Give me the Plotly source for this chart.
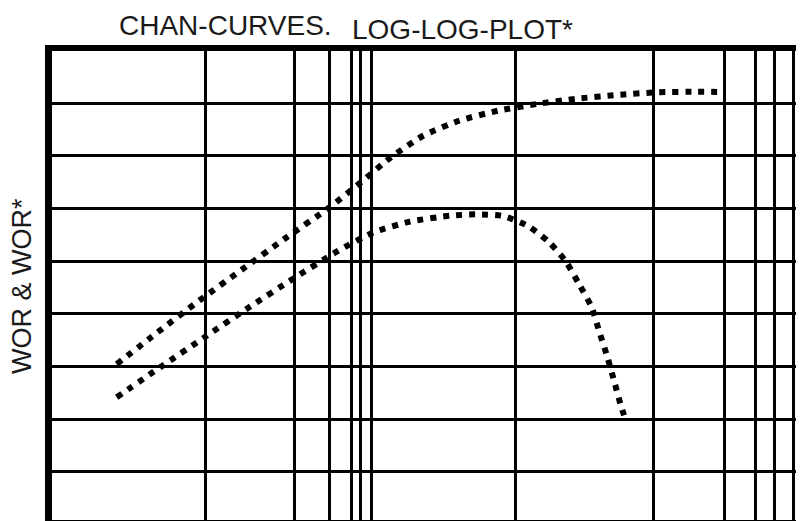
import plotly.graph_objects as go

# Grid positions (no tick labels shown in the reference)
x_grid = [153, 242, 277.3, 299, 308, 319.7, 463, 601.3, 672, 703, 722.3, 741.3]
y_grid = [1, 2, 3, 4, 5, 6, 7, 8]

# Upper curve (WOR*)
wor_star_x = [64.7, 106, 148, 190.7, 233.7, 277, 308, 338, 370.7, 407, 446, 484.7, 525, 564.7, 604.7, 644.7, 669.7]
wor_star_y = [3.047, 3.655, 4.262, 4.850, 5.438, 6.013, 6.482, 6.956, 7.374, 7.664, 7.854, 7.981, 8.082, 8.152, 8.203, 8.214, 8.209]

# Lower curve (WOR)
wor_x = [64.7, 109, 153, 196, 240.7, 284.7, 320.7, 358, 398, 424.7, 451, 476, 497, 514, 527, 539.7, 547.3, 555.3, 562.3, 569, 573]
wor_y = [2.416, 2.996, 3.560, 4.110, 4.660, 5.178, 5.539, 5.748, 5.861, 5.888, 5.856, 5.666, 5.362, 4.989, 4.565, 4.123, 3.660, 3.186, 2.712, 2.250, 2.023]

FONT = "Liberation Sans, Arial, sans-serif"
line_style = dict(color="black", width=6, dash="6px,7px", shape="spline", smoothing=0.6)

fig = go.Figure()
fig.add_trace(go.Scatter(x=wor_star_x, y=wor_star_y, mode="lines", line=line_style, name="WOR*", hoverinfo="skip"))
fig.add_trace(go.Scatter(x=wor_x, y=wor_y, mode="lines", line=line_style, name="WOR", hoverinfo="skip"))

fig.update_layout(
    width=804, height=521,
    margin=dict(l=44, r=0, t=43, b=9, autoexpand=False),
    paper_bgcolor="white", plot_bgcolor="white",
    showlegend=False,
    font=dict(family=FONT, color="#1a1a1a"),
    xaxis=dict(range=[0, 760], tickvals=x_grid, showticklabels=False, ticks="",
               showgrid=True, gridcolor="black", gridwidth=2.5, zeroline=False,
               showline=True, linecolor="black", linewidth=6, mirror=True),
    yaxis=dict(range=[0.087, 8.987], tickvals=y_grid, showticklabels=False, ticks="",
               showgrid=True, gridcolor="black", gridwidth=2.5, zeroline=False,
               showline=True, linecolor="black", linewidth=7, mirror=True),
    annotations=[
        dict(text="CHAN-CURVES.", xref="paper", yref="paper", x=0.2289, y=1.0554,
             xanchor="center", yanchor="middle", showarrow=False, font=dict(size=28, family=FONT)),
        dict(text="LOG-LOG-PLOT*", xref="paper", yref="paper", x=0.5395, y=1.0469,
             xanchor="center", yanchor="middle", showarrow=False, font=dict(size=28, family=FONT)),
        dict(text="WOR & WOR*", xref="paper", yref="paper", x=-0.0395, y=0.499,
             xanchor="center", yanchor="middle", textangle=-90, showarrow=False, font=dict(size=27, family=FONT)),
    ],
)

fig.write_html("out.html")
